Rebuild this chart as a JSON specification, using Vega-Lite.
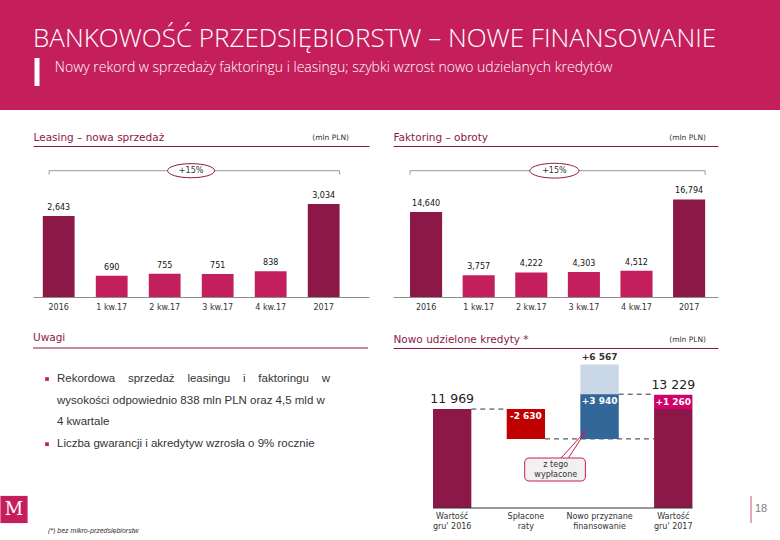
{
  "$schema": "https://vega.github.io/schema/vega-lite/v6.json",
  "padding": 0,
  "background": "white",
  "columns": 1,
  "align": "none",
  "spacing": 22,
  "resolve": {"scale": {"color": "independent"}},
  "config": {
    "view": {"stroke": null},
    "font": "DejaVu Sans",
    "axis": {"grid": false},
    "text": {"font": "DejaVu Sans"}
  },
  "concat": [
    {
      "width": 780,
      "height": 110,
      "view": {"fill": "#C41F5B", "stroke": null},
      "title": {
        "text": "BANKOWOŚĆ PRZEDSIĘBIORSTW – NOWE FINANSOWANIE",
        "subtitle": "\u200b\u00a0\u00a0\u00a0\u00a0\u00a0\u00a0Nowy rekord w sprzedaży faktoringu i leasingu; szybki wzrost nowo udzielanych kredytów",
        "anchor": "start",
        "frame": "group",
        "orient": "top",
        "offset": -75,
        "dx": 33,
        "color": "white",
        "subtitleColor": "white",
        "font": "Open Sans",
        "fontSize": 26,
        "fontWeight": 300,
        "subtitleFont": "Open Sans",
        "subtitleFontSize": 14,
        "subtitleFontWeight": 300,
        "subtitlePadding": 9
      },
      "data": {"values": [{"accent": "bar"}]},
      "mark": {"type": "rule", "color": "white", "strokeWidth": 5},
      "encoding": {"x": {"value": 37}, "y": {"value": 58}, "y2": {"value": 86}}
    },
    {
      "bounds": "flush",
      "spacing": 24,
      "hconcat": [
        {
          "width": 9,
          "height": 151,
          "data": {"values": []},
          "mark": {"type": "text"},
          "encoding": {}
        },
        {
          "width": 336,
          "height": 151,
          "title": {"text": "(mln PLN)", "anchor": "end", "frame": "group", "offset": -9, "dx": -20, "fontSize": 7.5, "fontWeight": "normal", "color": "#333333", "font": "DejaVu Sans"},
          "data": {"values": [
            {"period": "2016", "value": 2643, "kind": "rok"},
            {"period": "1 kw.17", "value": 690, "kind": "kwartał"},
            {"period": "2 kw.17", "value": 755, "kind": "kwartał"},
            {"period": "3 kw.17", "value": 751, "kind": "kwartał"},
            {"period": "4 kw.17", "value": 838, "kind": "kwartał"},
            {"period": "2017", "value": 3034, "kind": "rok"}
          ]},
          "layer": [
            {
              "mark": {"type": "bar"},
              "encoding": {
                "x": {"field": "period", "type": "nominal",
                  "scale": {"domain": ["2016", "1 kw.17", "2 kw.17", "3 kw.17", "4 kw.17", "2017"], "paddingInner": 0.4, "paddingOuter": 0.37, "align": 0.25},
                  "axis": {"orient": "bottom", "title": null, "labelAngle": 0, "ticks": false, "domainColor": "#8c8c8c", "labelFontSize": 8, "labelColor": "#333333", "labelPadding": 6}},
                "y": {"field": "value", "type": "quantitative", "scale": {"domain": [0, 4927], "nice": false}, "axis": null},
                "color": {"field": "kind", "type": "nominal", "scale": {"domain": ["rok", "kwartał"], "range": ["#8B1846", "#C31F5D"]}, "legend": null}
              }
            },
            {
              "mark": {"type": "text", "baseline": "bottom", "dy": -4, "fontSize": 8, "color": "#111111"},
              "encoding": {
                "x": {"field": "period", "type": "nominal", "axis": null},
                "y": {"field": "value", "type": "quantitative"},
                "text": {"field": "value", "type": "quantitative", "format": ","}
              }
            },
            {
              "data": {"values": [{"from": "2016", "to": "2017", "change": "+15%"}]},
              "layer": [
                {
                  "mark": {"type": "rule", "color": "#9a9a9a"},
                  "encoding": {
                    "x": {"field": "from", "type": "nominal", "bandPosition": 0.2,
                      "axis": {"orient": "top", "title": "Leasing – nowa sprzedaż", "titleAnchor": "start", "titleAlign": "left", "titleFontSize": 10.5, "titleFontWeight": "normal", "titleColor": "#8B1846", "titlePadding": 4, "labels": false, "ticks": false, "domain": true, "domainColor": "#8B1846", "domainWidth": 1}},
                    "x2": {"field": "to", "bandPosition": 1},
                    "y": {"datum": 4121}
                  }
                },
                {
                  "mark": {"type": "rule", "color": "#9a9a9a"},
                  "encoding": {
                    "x": {"field": "from", "type": "nominal", "bandPosition": 0.2},
                    "y": {"datum": 4121},
                    "y2": {"datum": 3991}
                  }
                },
                {
                  "mark": {"type": "rule", "color": "#9a9a9a"},
                  "encoding": {
                    "x": {"field": "to", "type": "nominal", "bandPosition": 1},
                    "y": {"datum": 4121},
                    "y2": {"datum": 3991}
                  }
                },
                {
                  "mark": {"type": "point", "shape": "M-1,0 A1,0.3 0 1,0 1,0 A1,0.3 0 1,0 -1,0 Z", "size": 2209, "filled": true, "fill": "white", "stroke": "#8B1846", "strokeWidth": 1, "opacity": 1},
                  "encoding": {
                    "x": {"datum": "2 kw.17", "bandPosition": 1.33},
                    "y": {"datum": 4121}
                  }
                },
                {
                  "mark": {"type": "text", "fontSize": 8, "color": "#333333", "baseline": "middle"},
                  "encoding": {
                    "x": {"datum": "2 kw.17", "bandPosition": 1.33},
                    "y": {"datum": 4121},
                    "text": {"field": "change"}
                  }
                }
              ]
            }
          ],
          "resolve": {"axis": {"x": "independent"}}
        },
        {
          "width": 325,
          "height": 151,
          "title": {"text": "(mln PLN)", "anchor": "end", "frame": "group", "offset": -9, "dx": -12, "fontSize": 7.5, "fontWeight": "normal", "color": "#333333", "font": "DejaVu Sans"},
          "data": {"values": [
            {"period": "2016", "value": 14640, "kind": "rok"},
            {"period": "1 kw.17", "value": 3757, "kind": "kwartał"},
            {"period": "2 kw.17", "value": 4222, "kind": "kwartał"},
            {"period": "3 kw.17", "value": 4303, "kind": "kwartał"},
            {"period": "4 kw.17", "value": 4512, "kind": "kwartał"},
            {"period": "2017", "value": 16794, "kind": "rok"}
          ]},
          "layer": [
            {
              "mark": {"type": "bar"},
              "encoding": {
                "x": {"field": "period", "type": "nominal",
                  "scale": {"domain": ["2016", "1 kw.17", "2 kw.17", "3 kw.17", "4 kw.17", "2017"], "paddingInner": 0.39, "paddingOuter": 0.284, "align": 0.57},
                  "axis": {"orient": "bottom", "title": null, "labelAngle": 0, "ticks": false, "domainColor": "#8c8c8c", "labelFontSize": 8, "labelColor": "#333333", "labelPadding": 6}},
                "y": {"field": "value", "type": "quantitative", "scale": {"domain": [0, 26007], "nice": false}, "axis": null},
                "color": {"field": "kind", "type": "nominal", "scale": {"domain": ["rok", "kwartał"], "range": ["#8B1846", "#C31F5D"]}, "legend": null}
              }
            },
            {
              "mark": {"type": "text", "baseline": "bottom", "dy": -4, "fontSize": 8, "color": "#111111"},
              "encoding": {
                "x": {"field": "period", "type": "nominal", "axis": null},
                "y": {"field": "value", "type": "quantitative"},
                "text": {"field": "value", "type": "quantitative", "format": ","}
              }
            },
            {
              "data": {"values": [{"from": "2016", "to": "2017", "change": "+15%"}]},
              "layer": [
                {
                  "mark": {"type": "rule", "color": "#9a9a9a"},
                  "encoding": {
                    "x": {"field": "from", "type": "nominal", "bandPosition": 0,
                      "axis": {"orient": "top", "title": "Faktoring – obroty", "titleAnchor": "start", "titleAlign": "left", "titleFontSize": 10.5, "titleFontWeight": "normal", "titleColor": "#8B1846", "titlePadding": 4, "labels": false, "ticks": false, "domain": true, "domainColor": "#8B1846", "domainWidth": 1}},
                    "x2": {"field": "to", "bandPosition": 1},
                    "y": {"datum": 21753}
                  }
                },
                {
                  "mark": {"type": "rule", "color": "#9a9a9a"},
                  "encoding": {
                    "x": {"field": "from", "type": "nominal", "bandPosition": 0},
                    "y": {"datum": 21753},
                    "y2": {"datum": 21063}
                  }
                },
                {
                  "mark": {"type": "rule", "color": "#9a9a9a"},
                  "encoding": {
                    "x": {"field": "to", "type": "nominal", "bandPosition": 1},
                    "y": {"datum": 21753},
                    "y2": {"datum": 21063}
                  }
                },
                {
                  "mark": {"type": "point", "shape": "M-1,0 A1,0.3 0 1,0 1,0 A1,0.3 0 1,0 -1,0 Z", "size": 2401, "filled": true, "fill": "white", "stroke": "#8B1846", "strokeWidth": 1, "opacity": 1},
                  "encoding": {
                    "x": {"datum": "2 kw.17", "bandPosition": 1.22},
                    "y": {"datum": 21753}
                  }
                },
                {
                  "mark": {"type": "text", "fontSize": 8, "color": "#333333", "baseline": "middle"},
                  "encoding": {
                    "x": {"datum": "2 kw.17", "bandPosition": 1.22},
                    "y": {"datum": 21753},
                    "text": {"field": "change"}
                  }
                }
              ]
            }
          ],
          "resolve": {"axis": {"x": "independent"}}
        }
      ]
    },
    {
      "bounds": "flush",
      "spacing": 25,
      "resolve": {"scale": {"color": "independent"}},
      "hconcat": [
        {
          "width": 8,
          "height": 160,
          "data": {"values": [{"brand": "M", "note": "(*) bez mikro-przedsiębiorstw"}]},
          "layer": [
            {
              "mark": {"type": "square", "size": 740, "color": "#C41F5B", "opacity": 1},
              "encoding": {"x": {"value": 14}, "y": {"value": 161.5}}
            },
            {
              "mark": {"type": "text", "font": "DejaVu Serif", "fontSize": 18, "color": "white", "baseline": "middle"},
              "encoding": {"x": {"value": 14}, "y": {"value": 162}, "text": {"field": "brand"}}
            },
            {
              "mark": {"type": "text", "fontStyle": "italic", "fontSize": 7, "color": "#333333", "align": "left", "baseline": "middle", "font": "Liberation Sans"},
              "encoding": {"x": {"value": 48}, "y": {"value": 183}, "text": {"field": "note"}}
            }
          ]
        },
        {
          "width": 335,
          "height": 160,
          "title": {"text": "Uwagi", "anchor": "start", "frame": "group", "offset": 4, "fontSize": 10.5, "fontWeight": "normal", "color": "#8B1846", "font": "DejaVu Sans"},
          "layer": [
            {
              "data": {"values": [
                {"line": 1, "text": "Rekordowa\u00a0\u00a0\u00a0 sprzedaż\u00a0\u00a0\u00a0 leasingu\u00a0\u00a0\u00a0 i\u00a0\u00a0\u00a0 faktoringu\u00a0\u00a0\u00a0 w", "bullet": true},
                {"line": 2, "text": "wysokości odpowiednio 838 mln PLN oraz 4,5 mld w", "bullet": false},
                {"line": 3, "text": "4 kwartale", "bullet": false},
                {"line": 4, "text": "Liczba gwarancji i akredytyw wzrosła o 9% rocznie", "bullet": true}
              ]},
              "layer": [
                {
                  "mark": {"type": "text", "align": "left", "baseline": "middle", "fontSize": 11.5, "font": "Liberation Sans", "color": "#333333"},
                  "encoding": {
                    "x": {"value": 24},
                    "y": {"field": "line", "type": "quantitative", "scale": {"domain": [-0.43, 6.94], "reverse": true, "nice": false, "zero": false}, "axis": null},
                    "text": {"field": "text"}
                  }
                },
                {
                  "transform": [{"filter": "datum.bullet"}],
                  "mark": {"type": "square", "size": 14, "color": "#C31F5D", "opacity": 1},
                  "encoding": {
                    "x": {"value": 14},
                    "y": {"field": "line", "type": "quantitative"}
                  }
                }
              ]
            },
            {
              "data": {"values": [{"section": "Uwagi"}]},
              "mark": {"type": "rule", "color": "#8B1846"},
              "encoding": {"y": {"datum": -0.43}}
            }
          ]
        },
        {
          "width": 325,
          "height": 160,
          "title": {"text": "(mln PLN)", "anchor": "end", "frame": "group", "offset": -9, "dx": -12, "fontSize": 7.5, "fontWeight": "normal", "color": "#333333", "font": "DejaVu Sans"},
          "layer": [
            {
              "data": {"values": [
                {"from": "Wartość\ngru' 2016", "to": "Spłacone\nraty", "level": 11969},
                {"from": "Spłacone\nraty", "to": "Wartość\ngru' 2017", "level": 9339},
                {"from": "Nowo przyznane\nfinansowanie", "to": "Wartość\ngru' 2017", "level": 13279}
              ]},
              "mark": {"type": "rule", "color": "#333333", "strokeDash": [5, 4], "strokeWidth": 1},
              "encoding": {
                "x": {"field": "from", "type": "nominal", "bandPosition": 1,
                  "scale": {"domain": ["Wartość\ngru' 2016", "Spłacone\nraty", "Nowo przyznane\nfinansowanie", "Wartość\ngru' 2017"], "paddingInner": 0.48, "paddingOuter": 0.445, "align": 0.61},
                  "axis": {"orient": "top", "title": "Nowo udzielone kredyty *", "titleAnchor": "start", "titleAlign": "left", "titleFontSize": 10.5, "titleFontWeight": "normal", "titleColor": "#8B1846", "titlePadding": 4, "labels": false, "ticks": false, "domain": true, "domainColor": "#8B1846", "domainWidth": 1}},
                "x2": {"field": "to", "bandPosition": 0},
                "y": {"field": "level", "type": "quantitative", "scale": {"domain": [3250, 17350], "nice": false, "zero": false, "clamp": true}, "axis": null}
              }
            },
            {
              "data": {"values": [
                {"cat": "Wartość\ngru' 2016", "part": "stan", "lo": 0, "hi": 11969},
                {"cat": "Spłacone\nraty", "part": "spłacone", "lo": 9339, "hi": 11969},
                {"cat": "Nowo przyznane\nfinansowanie", "part": "przyznane", "lo": 9339, "hi": 15906},
                {"cat": "Nowo przyznane\nfinansowanie", "part": "wypłacone", "lo": 9339, "hi": 13279},
                {"cat": "Wartość\ngru' 2017", "part": "stan", "lo": 0, "hi": 11969},
                {"cat": "Wartość\ngru' 2017", "part": "inne", "lo": 11969, "hi": 13229}
              ]},
              "mark": {"type": "bar"},
              "encoding": {
                "x": {"field": "cat", "type": "nominal",
                  "axis": {"orient": "bottom", "title": null, "labelAngle": 0, "ticks": false, "domain": false, "labelFontSize": 8, "labelColor": "#333333", "labelPadding": 4, "labelLineHeight": 10, "labelExpr": "split(datum.label, '\\n')"}},
                "y": {"field": "hi", "type": "quantitative"},
                "y2": {"field": "lo"},
                "color": {"field": "part", "type": "nominal", "scale": {"domain": ["stan", "spłacone", "przyznane", "wypłacone", "inne"], "range": ["#8B1846", "#C00000", "#C9D7E6", "#336699", "#D1006A"]}, "legend": null}
              }
            },
            {
              "data": {"values": [{"edge": "baseline"}]},
              "mark": {"type": "rule", "color": "#333333", "strokeWidth": 1},
              "encoding": {
                "x": {"datum": "Wartość\ngru' 2016", "bandPosition": 0, "axis": null},
                "x2": {"datum": "Wartość\ngru' 2017", "bandPosition": 1},
                "y": {"datum": 3250}
              }
            },
            {
              "data": {"values": [
                {"cat": "Wartość\ngru' 2016", "value": 11969, "text": "11 969"},
                {"cat": "Wartość\ngru' 2017", "value": 13229, "text": "13 229"}
              ]},
              "mark": {"type": "text", "baseline": "bottom", "dy": -3, "fontSize": 12.5, "color": "#222222"},
              "encoding": {
                "x": {"field": "cat", "type": "nominal", "axis": null},
                "y": {"field": "value", "type": "quantitative"},
                "text": {"field": "text"}
              }
            },
            {
              "data": {"values": [{"cat": "Nowo przyznane\nfinansowanie", "value": 15906, "text": "+6 567"}]},
              "mark": {"type": "text", "baseline": "bottom", "dy": -2, "fontSize": 9, "fontWeight": "bold", "color": "#333333"},
              "encoding": {
                "x": {"field": "cat", "type": "nominal", "axis": null},
                "y": {"field": "value", "type": "quantitative"},
                "text": {"field": "text"}
              }
            },
            {
              "data": {"values": [
                {"cat": "Spłacone\nraty", "value": 11969, "text": "-2 630"},
                {"cat": "Nowo przyznane\nfinansowanie", "value": 13279, "text": "+3 940"},
                {"cat": "Wartość\ngru' 2017", "value": 13229, "text": "+1 260"}
              ]},
              "mark": {"type": "text", "baseline": "top", "dy": 3, "fontSize": 9, "fontWeight": "bold", "color": "white"},
              "encoding": {
                "x": {"field": "cat", "type": "nominal", "axis": null},
                "y": {"field": "value", "type": "quantitative"},
                "text": {"field": "text"}
              }
            },
            {
              "data": {"values": [{"note": "z tego\nwypłacone"}]},
              "layer": [
                {
                  "mark": {"type": "rect", "fill": "#F3F0F2", "stroke": "#C41F5B", "strokeWidth": 1, "cornerRadius": 4},
                  "encoding": {
                    "x": {"datum": "Spłacone\nraty", "bandPosition": 0.47, "axis": null},
                    "x2": {"datum": "Nowo przyznane\nfinansowanie", "bandPosition": 0.13},
                    "y": {"datum": 7656},
                    "y2": {"datum": 5629}
                  }
                },
                {
                  "mark": {"type": "rule", "color": "#C41F5B", "strokeWidth": 1},
                  "encoding": {
                    "x": {"datum": "Spłacone\nraty", "bandPosition": 1.42, "axis": null},
                    "x2": {"datum": "Nowo przyznane\nfinansowanie", "bandPosition": 0.16},
                    "y": {"datum": 7656},
                    "y2": {"datum": 10123}
                  }
                },
                {
                  "mark": {"type": "rule", "color": "#C41F5B", "strokeWidth": 1},
                  "encoding": {
                    "x": {"datum": "Spłacone\nraty", "bandPosition": 1.61, "axis": null},
                    "x2": {"datum": "Nowo przyznane\nfinansowanie", "bandPosition": 0.16},
                    "y": {"datum": 7656},
                    "y2": {"datum": 10123}
                  }
                },
                {
                  "mark": {"type": "text", "fontSize": 8, "color": "#333333", "baseline": "middle", "lineBreak": "\n", "lineHeight": 10},
                  "encoding": {
                    "x": {"datum": "Spłacone\nraty", "bandPosition": 1.28, "axis": null},
                    "y": {"datum": 7050},
                    "text": {"field": "note"}
                  }
                }
              ]
            },
            {
              "data": {"values": [{"page": "18"}]},
              "layer": [
                {
                  "mark": {"type": "rule", "color": "#E3A9BF", "strokeWidth": 2},
                  "encoding": {"x": {"value": 358}, "y": {"value": 148}, "y2": {"value": 175}}
                },
                {
                  "mark": {"type": "text", "fontSize": 11, "color": "#808080", "align": "left", "baseline": "middle", "font": "Liberation Sans"},
                  "encoding": {"x": {"value": 362}, "y": {"value": 161}, "text": {"field": "page"}}
                }
              ]
            }
          ],
          "resolve": {"axis": {"x": "independent"}}
        }
      ]
    }
  ]
}
